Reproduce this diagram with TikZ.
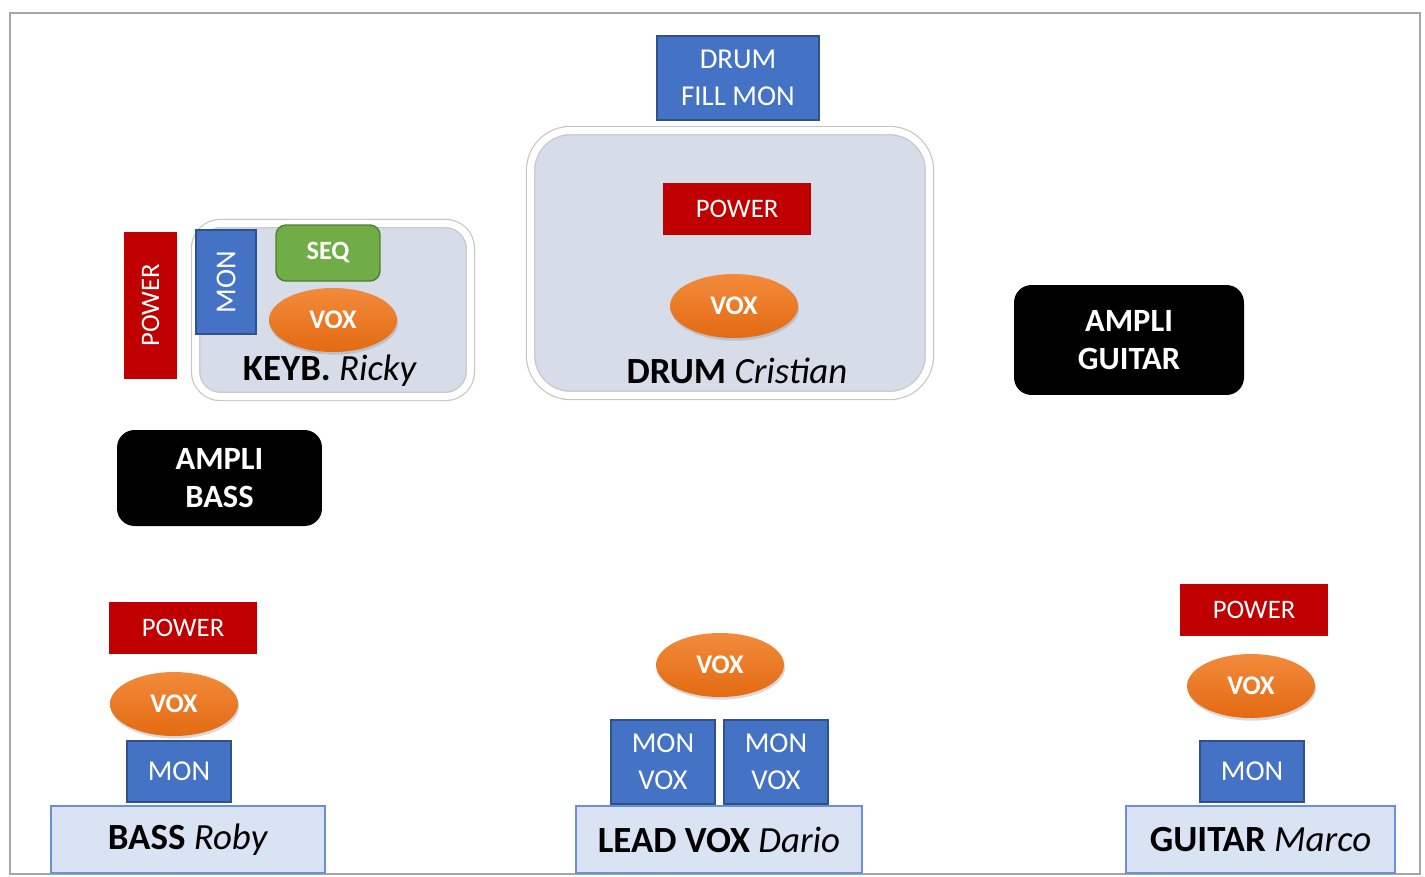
\documentclass[tikz,border=0pt]{standalone}
\usepackage{fontspec}
\setmainfont{Carlito}
\usepackage{xcolor}
\usepackage{tikz}
\usetikzlibrary{shapes.geometric,shadows}

\definecolor{monblue}{HTML}{4472C4}
\definecolor{monedge}{HTML}{2F528F}
\definecolor{powred}{HTML}{C00000}
\definecolor{seqgreen}{HTML}{70AD47}
\definecolor{seqedge}{HTML}{507E32}
\definecolor{voxtop}{HTML}{F28B3C}
\definecolor{voxbot}{HTML}{E36A12}
\definecolor{riserfill}{HTML}{D6DCE8}
\definecolor{playfill}{HTML}{DAE3F3}
\definecolor{playedge}{HTML}{6C90D4}

\begin{document}
\begin{tikzpicture}[x=0.02cm,y=-0.02cm,
    mon/.style={draw=monedge, fill=monblue, text=white, line width=0.8pt, align=center, font=\fontsize{16.4}{21}\selectfont},
    power/.style={fill=powred, text=white, minimum width=2.96cm, minimum height=1.04cm, font=\fontsize{15.2}{17}\selectfont},
    vox/.style={ellipse, top color=voxtop, bottom color=voxbot, text=white, minimum width=2.56cm, minimum height=1.28cm, font=\bfseries\fontsize{15.3}{17}\selectfont, drop shadow={shadow xshift=0.6pt, shadow yshift=-1.5pt, opacity=0.3}},
    ampli/.style={fill=black, text=white, rounded corners=0.35cm, align=center, font=\bfseries\fontsize{18.5}{21.5}\selectfont},
    riser/.style={draw=gray!45, line width=0.7pt, double=white, double distance=4pt, fill=riserfill},
    player/.style={draw=playedge, fill=playfill, line width=0.9pt, minimum height=1.34cm, font=\fontsize{21}{24}\selectfont},
    who/.style={font=\fontsize{21}{24}\selectfont}]

    \useasboundingbox (0,0) rectangle (1425,876);
    \draw [gray!70, line width=1.2pt] (10,13) rectangle (1420,874);

    % drum
    \node [style={mon, minimum width=3.24cm, minimum height=1.68cm}] (DF) at (738,78) {DRUM\\FILL MON};
    \node [style={riser, rounded corners=0.8cm, minimum width=7.98cm, minimum height=5.3cm}] (DR) at (730,263) {};
    \node [style=power] (DP) at (737,209) {POWER};
    \node [style=vox] (DV) at (734,306) {VOX};
    \node [style=who] (DL) at (737,371) {\textbf{DRUM} \textit{Cristian}};

    % keyboard
    \node [style={riser, rounded corners=0.5cm, minimum width=5.5cm, minimum height=3.46cm}] (KR) at (333,310) {};
    \node [style={power, rotate=90, minimum width=2.94cm, minimum height=1.06cm}] (KP) at (150.5,305.5) {POWER};
    \node [style={mon, rotate=90, minimum width=2.08cm, minimum height=1.2cm}] (KM) at (226,282) {MON};
    \node [style={draw=seqedge, fill=seqgreen, text=white, line width=0.8pt, rounded corners=0.2cm, minimum width=2.08cm, minimum height=1.12cm, font=\bfseries\fontsize{15}{17}\selectfont}] (KS) at (328,253) {SEQ};
    \node [style=vox] (KV) at (333,320) {VOX};
    \node [style=who] (KL) at (330,371) {\textbf{KEYB.} \textit{Ricky}};

    % amps
    \node [style={ampli, minimum width=4.1cm, minimum height=1.92cm}] (AB) at (219.5,478) {AMPLI\\BASS};
    \node [style={ampli, minimum width=4.6cm, minimum height=2.2cm}] (AG) at (1129,340) {AMPLI\\GUITAR};

    % bass
    \node [style=power] (BP) at (183,628) {POWER};
    \node [style=vox] (BV) at (174,704) {VOX};
    \node [style={mon, minimum width=2.08cm, minimum height=1.22cm}] (BM) at (179,771.5) {MON};
    \node [style={player, minimum width=5.48cm}] (B) at (188,839.5) {\textbf{BASS} \textit{Roby}};

    % lead vox
    \node [style=vox] (LV) at (720,665) {VOX};
    \node [style={mon, minimum width=2.08cm, minimum height=1.68cm}] (LM1) at (663,762) {MON\\VOX};
    \node [style={mon, minimum width=2.08cm, minimum height=1.68cm}] (LM2) at (776,762) {MON\\VOX};
    \node [style={player, minimum width=5.72cm}] (L) at (719,839.5) {\textbf{LEAD VOX} \textit{Dario}};

    % guitar
    \node [style=power] (GP) at (1254,610) {POWER};
    \node [style=vox] (GV) at (1251,686) {VOX};
    \node [style={mon, minimum width=2.08cm, minimum height=1.22cm}] (GM) at (1252,771.5) {MON};
    \node [style={player, minimum width=5.38cm}] (G) at (1260.5,839.5) {\textbf{GUITAR} \textit{Marco}};

\end{tikzpicture}
\end{document}
